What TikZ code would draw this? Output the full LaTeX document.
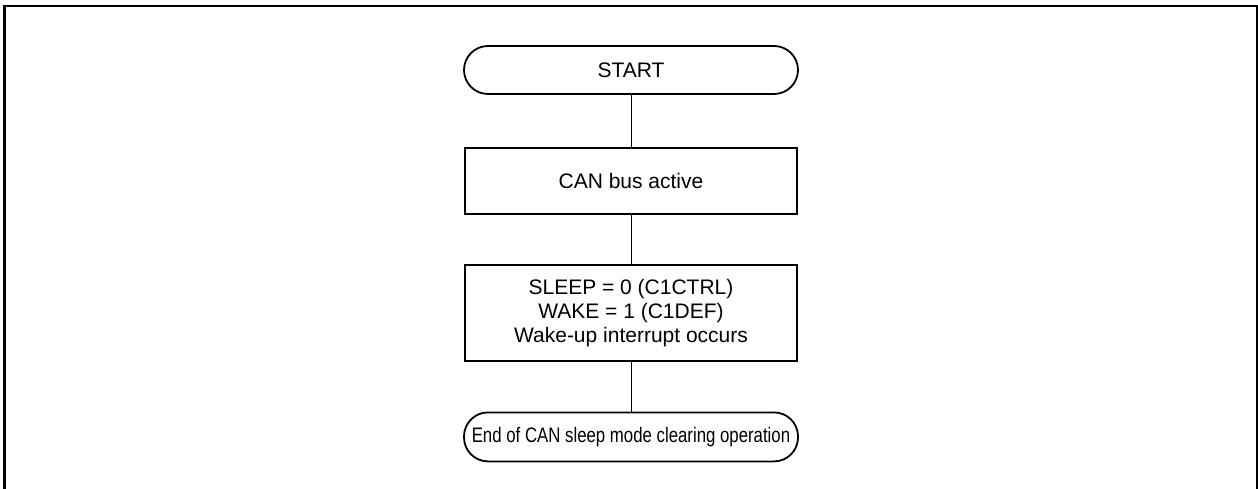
\documentclass[tikz,border=0pt]{standalone}
\usepackage{fontspec}
\setmainfont{Liberation Sans}
\usetikzlibrary{positioning}

\begin{document}
\begin{tikzpicture}[x=1pt,y=1pt,
        node distance=50pt,
        terminal/.style={draw,line width=1.8pt,rounded corners=24pt,minimum width=334pt,
                         minimum height=48pt,inner sep=0pt,font=\fontsize{21}{24}\selectfont},
        passo/.style={draw,line width=1.8pt,minimum width=332pt,align=center,
                      inner sep=0pt,font=\fontsize{21}{24}\selectfont},
        linha/.style={line width=0.8pt}]
      \useasboundingbox (0,0) rectangle (1258,-489);
      \draw[line width=2.6pt] (4.5,-489) -- (4.5,-6) -- (1257,-6) -- (1257,-489);
      \node[terminal] (inicio) at (631,-70) {START};
      \node[passo,minimum height=66pt,below=52pt of inicio] (ativo) {CAN bus active};
      \node[passo,minimum height=96pt,below=49pt of ativo] (sleep) {SLEEP = 0 (C1CTRL)\\WAKE = 1 (C1DEF)\\Wake-up interrupt occurs};
      \node[terminal,minimum height=49pt,below=50pt of sleep] (fim) {\scalebox{0.8}[1]{End of CAN sleep mode clearing operation}};
      \draw[linha] (inicio) -- (ativo);
      \draw[linha] (ativo) -- (sleep);
      \draw[linha] (sleep) -- (fim);
    \end{tikzpicture}
\end{document}
